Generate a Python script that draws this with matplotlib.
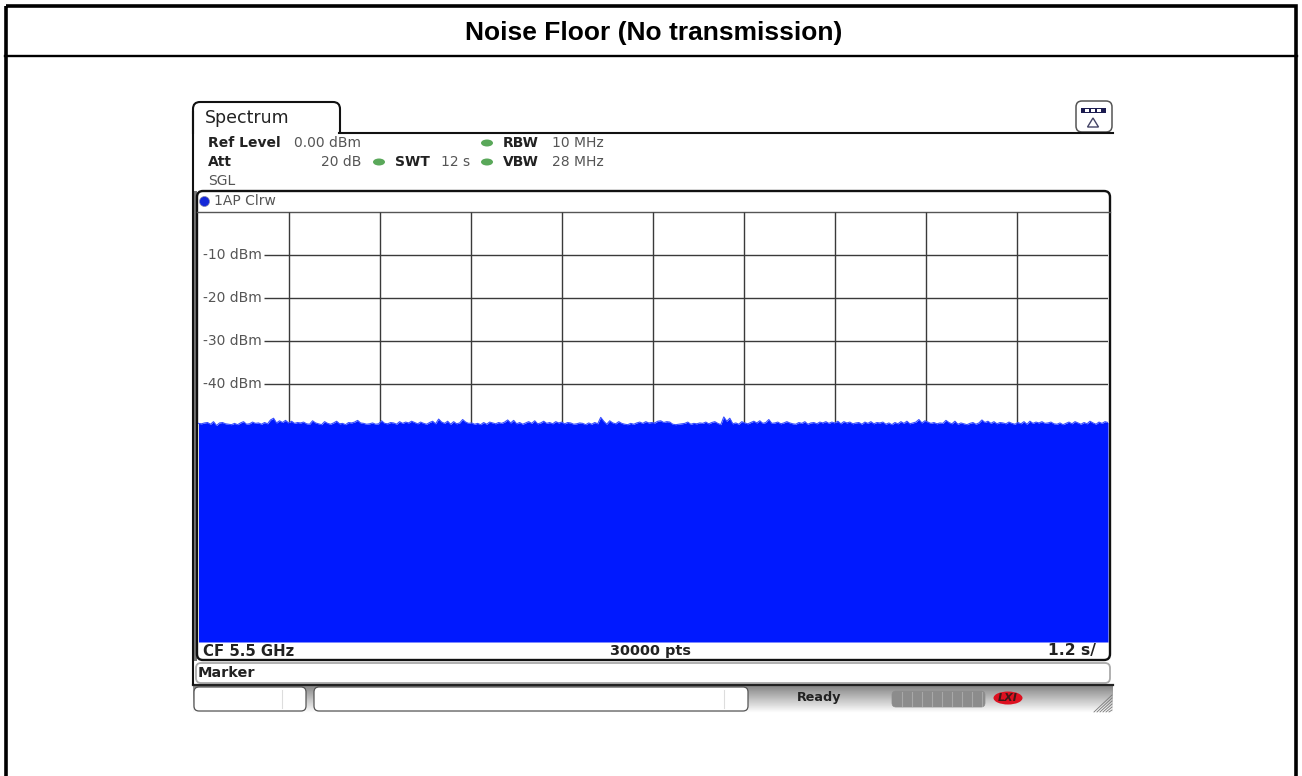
import numpy as np
import matplotlib

matplotlib.use("Agg")
import matplotlib.pyplot as plt
from matplotlib.patches import FancyBboxPatch, Rectangle, Ellipse, Polygon

# trace top, dBm, one value every ~3 px
TRACE_A = [-49.1, -49.2, -49.0, -48.9, -49.3, -48.7, -49.6, -49.0, -48.9, -49.2, -49.3, -49.4, -49.1, -49.4, -49.0, -48.7,
           -49.3, -49.2, -48.8, -49.1, -49.0, -49.3, -48.9, -49.2, -48.3, -47.9, -49.0, -48.5, -48.9, -48.4, -49.0, -48.6,
           -49.1, -48.9, -49.0, -48.8, -49.2, -49.3, -48.5, -49.0, -49.2, -49.4, -48.7, -49.1, -49.3, -49.0, -48.6, -49.2,
           -49.1, -49.4, -48.9, -49.0, -48.8, -48.4, -49.0, -49.1, -49.3, -49.2, -49.0, -49.3, -49.2, -48.5, -49.1, -49.2,
           -48.9, -49.0, -49.3, -48.7, -49.1, -48.8, -49.0, -48.6, -48.9, -49.2, -48.8, -49.1]
TRACE_B = [-49.3, -48.9, -48.6, -49.2, -48.1, -48.8, -49.1, -48.6, -49.3, -48.7, -49.2, -49.0, -48.2, -48.8, -49.1, -49.0,
           -49.3, -49.1, -49.4, -48.9, -49.3, -48.8, -49.0, -49.2, -48.9, -49.1, -48.8, -48.3, -49.0, -48.4, -49.2, -48.9,
           -49.3, -49.0, -48.7, -49.1, -48.5, -49.2, -49.0, -48.6, -49.1, -48.9, -49.2, -48.7, -49.0, -48.8, -49.2, -48.9,
           -49.0, -49.3, -49.2, -49.0, -49.1, -49.4, -49.0, -49.3, -48.9, -49.2, -47.7, -48.6, -49.3, -48.5, -49.0, -49.2,
           -48.7, -49.1, -49.3, -49.4, -49.1, -49.3, -49.0, -48.8, -49.1, -48.7, -49.0, -48.9]
TRACE_C = [-49.0, -48.6, -48.5, -48.9, -48.7, -48.8, -49.3, -49.4, -49.3, -49.2, -49.1, -48.8, -49.3, -49.1, -49.2, -49.0,
           -49.1, -48.8, -49.2, -48.9, -48.7, -49.1, -49.4, -47.6, -48.6, -47.9, -49.2, -49.0, -49.3, -48.7, -49.0, -49.2,
           -48.9, -48.6, -49.0, -48.5, -49.1, -48.9, -48.2, -49.1, -49.0, -48.8, -49.2, -49.0, -48.7, -49.0, -49.2, -49.3,
           -48.9, -49.1, -48.7, -49.3, -49.0, -48.9, -49.2, -48.8, -49.0, -48.7, -49.1, -48.8, -49.0, -48.6, -49.2, -48.7,
           -49.0, -48.8, -49.2, -49.0, -48.9, -49.3, -48.8, -49.1, -48.7, -49.2, -48.9, -49.0]
TRACE_D = [-48.8, -49.3, -49.0, -49.4, -48.9, -49.2, -48.7, -49.1, -48.6, -49.2, -49.0, -48.8, -48.2, -49.0, -48.5, -48.8,
           -49.1, -48.9, -49.2, -49.0, -49.1, -48.4, -48.9, -49.2, -48.6, -49.3, -49.0, -49.2, -49.4, -49.1, -48.9, -49.3,
           -49.0, -48.3, -48.9, -48.6, -49.1, -48.7, -49.2, -48.9, -49.0, -49.2, -48.8, -49.1, -49.3, -48.9, -49.2, -48.7,
           -49.3, -48.6, -49.1, -48.8, -49.0, -48.7, -49.1, -49.0, -48.8, -49.2, -49.3, -49.0, -49.4, -49.1, -48.8, -49.2,
           -48.7, -49.0, -49.3, -48.9, -49.2, -48.6, -49.0, -49.3, -48.8, -49.1, -48.7, -48.9]
trace_dbm = TRACE_A + TRACE_B + TRACE_C + TRACE_D

level_ticks = [-10, -20, -30, -40]
time_ticks = [1.2, 2.4, 3.6, 4.8, 6.0, 7.2, 8.4, 9.6, 10.8]
SWEEP_S = 12
REF_DBM = 0
BOTTOM_DBM = -100

W, H = 1302, 776
fig = plt.figure(figsize=(W / 100, H / 100), dpi=100, facecolor="white")

# screen furniture is laid out in image pixels
bg = fig.add_axes([0, 0, 1, 1])
bg.set_xlim(0, W)
bg.set_ylim(H, 0)
bg.axis("off")


def round_box(x0, y0, x1, y1, r=5, fc="white", ec="#222222", lw=1.2, z=2):
    bg.add_patch(FancyBboxPatch((x0 + r, y0 + r), x1 - x0 - 2 * r, y1 - y0 - 2 * r,
                                boxstyle=f"round,pad={r},rounding_size={r}",
                                fc=fc, ec=ec, lw=lw, zorder=z))


def label(x, y, s, size=10, color="#555555", weight="normal", ha="left"):
    bg.text(x, y, s, fontsize=size, color=color, fontweight=weight, ha=ha, va="center",
            family="DejaVu Sans", zorder=6)


# page frame and title
bg.add_patch(Rectangle((5.8, 5.8), 1290.5, 790, fc="none", ec="black", lw=2.6, zorder=1))
bg.plot([5, 1297], [55.5, 55.5], color="black", lw=1.7, zorder=1)
bg.text(653.5, 33, "Noise Floor (No transmission)", fontsize=19, fontweight="bold",
        family="Liberation Sans", ha="center", va="center", color="black")

# status bar
bar = np.linspace(0.5, 1.0, 32).reshape(-1, 1)
bg.imshow(bar, extent=(193, 1113, 713, 684), cmap="gray", vmin=0, vmax=1, aspect="auto", zorder=1)
bg.set_xlim(0, W)
bg.set_ylim(H, 0)
round_box(194, 687, 306, 711, r=5, ec="#555555", lw=0.9, z=3)
round_box(314, 687, 748, 711, r=5, ec="#555555", lw=0.9, z=3)
bg.plot([282, 282], [690, 708], color="#dddddd", lw=0.8, zorder=4)
bg.plot([724, 724], [690, 708], color="#dddddd", lw=0.8, zorder=4)
label(797, 698, "Ready", size=9.2, color="#222222", weight="bold")
round_box(892, 691, 985, 707, r=4, fc="#8c8c8c", ec="#8c8c8c", lw=0.5, z=3)
for x in range(902, 985, 10):
    bg.plot([x, x], [692, 706], color="#a8a8a8", lw=0.8, zorder=4)
bg.add_patch(Ellipse((1008, 698), 29, 13, fc="#dd1020", ec="none", zorder=3))
bg.text(1008, 698, "LXI", fontsize=8, fontweight="bold", fontstyle="italic", color="#401818",
        ha="center", va="center", zorder=4)
for i in range(6):
    bg.plot([1094 + 3 * i, 1112], [712, 695 + 3 * i], color="#777777", lw=0.6, zorder=4)

# spectrum tab and header
round_box(193, 102, 340, 150, r=7, ec="#111111", lw=1.5, z=2)
bg.add_patch(Rectangle((191, 133.5), 152, 22, fc="white", ec="none", zorder=3))
bg.plot([339, 1113], [132.5, 132.5], color="#111111", lw=1.5, zorder=4)
label(205, 118, "Spectrum", size=12.5, color="#222222")
round_box(1076, 101, 1112, 132, r=6, ec="#555555", lw=1.1, z=3)
bg.add_patch(Rectangle((1081, 108), 25, 5, fc="#1c1c50", ec="none", zorder=4))
for x in (1085, 1091, 1097):
    bg.add_patch(Rectangle((x, 109), 4, 3, fc="white", ec="none", zorder=5))
bg.add_patch(Polygon([(1093, 118), (1087.5, 127), (1098.5, 127)], closed=True, fc="white", ec="#444466",
                     lw=1, zorder=4))

label(208, 143, "Ref Level", color="#222222", weight="bold")
label(294, 143, "0.00 dBm")
label(503, 143, "RBW", color="#222222", weight="bold")
label(552, 143, "10 MHz")
label(208, 162, "Att", color="#222222", weight="bold")
label(321, 162, "20 dB")
label(395, 162, "SWT", color="#222222", weight="bold")
label(441, 162, "12 s")
label(503, 162, "VBW", color="#222222", weight="bold")
label(552, 162, "28 MHz")
label(208, 181, "SGL")
for x, y in [(487, 143), (379, 162), (487, 162)]:
    bg.add_patch(Ellipse((x, y), 12, 7, fc="#5aa85a", ec="none", zorder=5))

# left rail, plot panel and marker row
bg.plot([193.2, 193.2], [112, 684], color="#111111", lw=1.5, zorder=5)
bg.add_patch(Rectangle((194, 191), 3, 470, fc="#777777", ec="none", zorder=1))
round_box(197, 191, 1110, 660, r=6, ec="#111111", lw=1.7, z=2)
bg.plot([197, 1110], [212, 212], color="#555555", lw=1.0, zorder=3)
bg.add_patch(Ellipse((204.5, 201.5), 10, 10, fc="#1428d8", ec="#8888aa", lw=0.5, zorder=5))
label(214, 201, "1AP Clrw")
label(203, 651, "CF 5.5 GHz", size=10.7, color="#222222", weight="bold")
label(650, 651, "30000 pts", size=10.4, color="#222222", weight="bold", ha="center")
label(1096, 651, "1.2 s/", size=11.2, color="#222222", weight="bold", ha="right")
round_box(196, 663, 1110, 683, r=5, ec="#aaaaaa", lw=1.3, z=2)
bg.plot([193, 1113], [684.5, 684.5], color="#222222", lw=1.6, zorder=3)
label(198, 673, "Marker", size=10.4, color="#222222", weight="bold")

# trace area
L, R, T, B = 198.5, 1108.0, 212.5, 642.0
ax = fig.add_axes([L / W, 1 - B / H, (R - L) / W, (B - T) / H])
ax.patch.set_visible(False)
ax.set_xlim(0, SWEEP_S)
ax.set_ylim(BOTTOM_DBM, REF_DBM)
ax.set_xticks([])
ax.set_yticks([])
for side in ax.spines.values():
    side.set_visible(False)

# level lines start right after their labels
ax.vlines(time_ticks, BOTTOM_DBM, REF_DBM, color="#3a3a3a", lw=1.0, zorder=1)
ax.hlines(level_ticks, 0.86, SWEEP_S, color="#3a3a3a", lw=1.0, zorder=1)

sweep = np.linspace(0, SWEEP_S, len(trace_dbm))
ax.fill_between(sweep, BOTTOM_DBM, trace_dbm, color="#0019ff", lw=0, zorder=2)
ax.plot(sweep, trace_dbm, color="#3a50ff", lw=0.8, zorder=3)

for level in level_ticks:
    ax.text(0.06, level, f"{level} dBm", fontsize=10, color="#555555", family="DejaVu Sans",
            ha="left", va="center", zorder=4)

fig.savefig("out.png", dpi=100, facecolor="white")
plt.close(fig)
